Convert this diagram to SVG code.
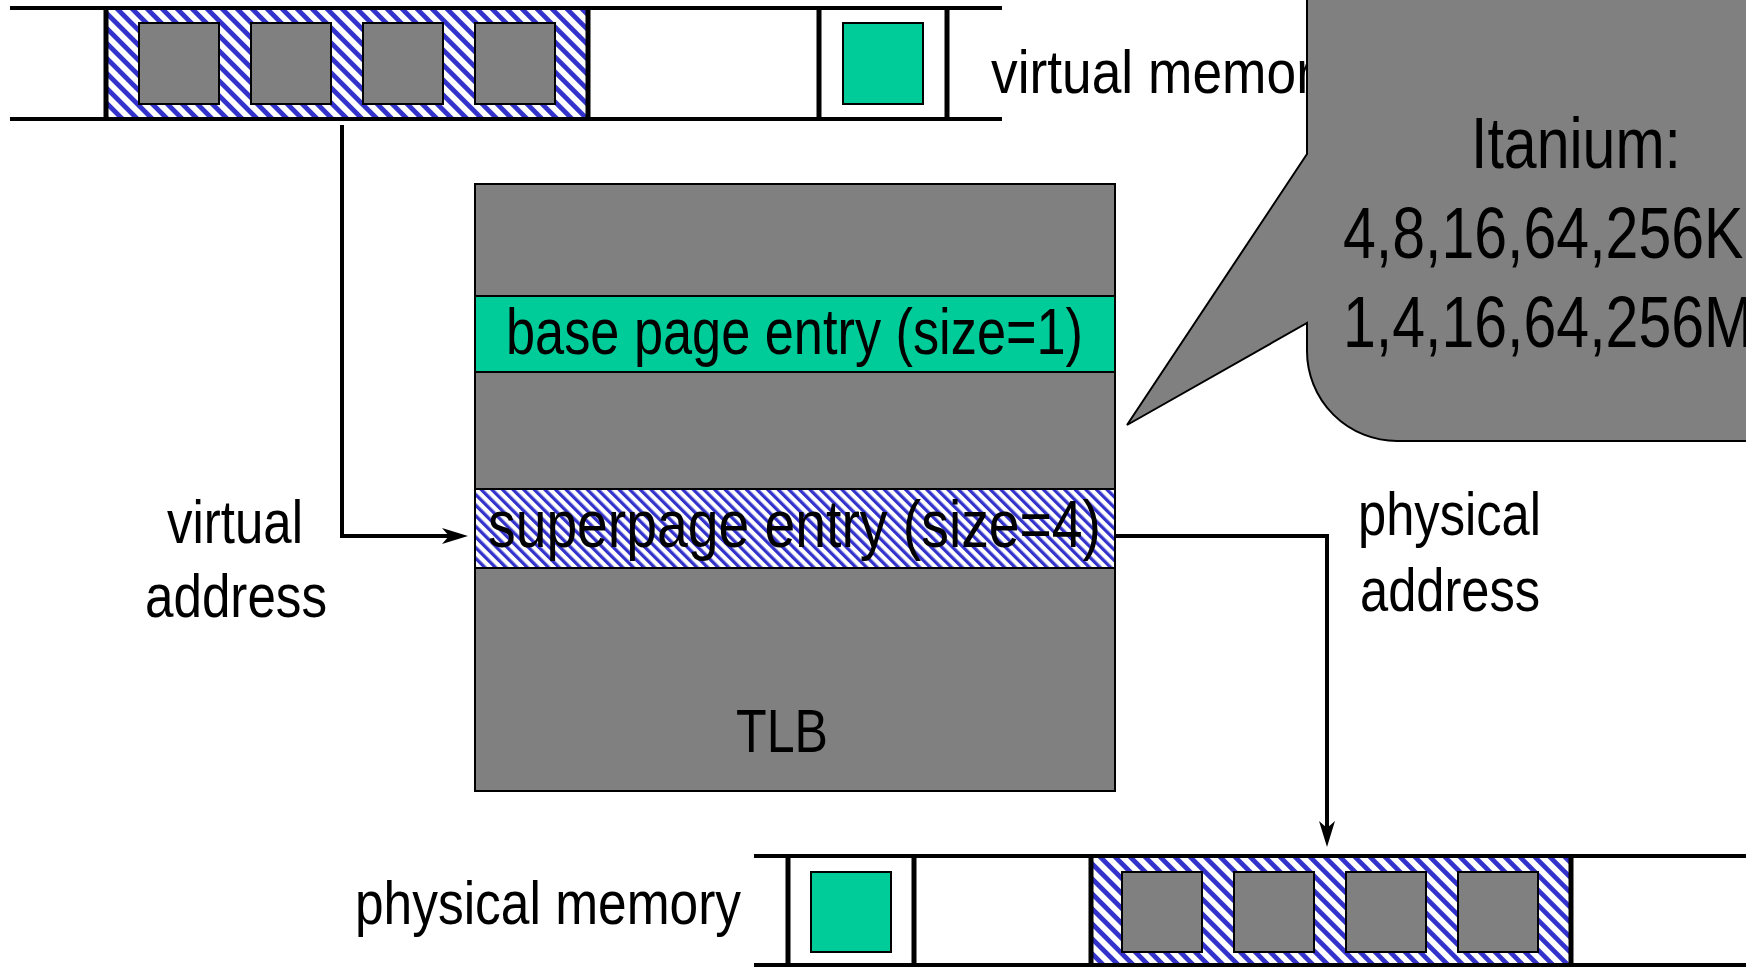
<svg xmlns="http://www.w3.org/2000/svg" width="1746" height="968" viewBox="0 0 1746 968">
<defs>
<style>
.t{font-family:"Liberation Sans Narrow","Liberation Sans",Arial,sans-serif;font-size:62px;fill:#000}
.big{font-size:72px}
.rail{stroke:#000;stroke-width:4;fill:none}
.div{stroke:#000;stroke-width:5;fill:none}
.pg{fill:#808080;stroke:#000;stroke-width:2}
.gr{fill:#00CC99;stroke:#000;stroke-width:2}
.hat{fill:url(#hatch)}
.conn{stroke:#000;stroke-width:4;fill:none}
</style>
<pattern id="hatch" width="10.6" height="10.6" patternUnits="userSpaceOnUse" patternTransform="rotate(-45)">
<rect width="10.6" height="10.6" fill="#fff"/>
<rect width="4.8" height="10.6" fill="#3333CC"/>
</pattern>
<pattern id="hatch2" width="7.5" height="7.5" patternUnits="userSpaceOnUse" patternTransform="rotate(-45)">
<rect width="7.5" height="7.5" fill="#fff"/>
<rect width="3.3" height="7.5" fill="#3333CC"/>
</pattern>
<marker id="arr" viewBox="0 0 26 16" refX="7" refY="8" markerWidth="26" markerHeight="16" markerUnits="userSpaceOnUse" orient="auto">
<path d="M0,0 L26,8 L0,16 L7,8 Z" fill="#000"/>
</marker>
</defs>
<rect width="1746" height="968" fill="#fff"/>

<g id="virtual-memory">
<rect class="hat" x="106" y="8" width="482" height="111"/>
<rect class="pg" x="139" y="23" width="80" height="81"/>
<rect class="pg" x="251" y="23" width="80" height="81"/>
<rect class="pg" x="363" y="23" width="80" height="81"/>
<rect class="pg" x="475" y="23" width="80" height="81"/>
<rect class="gr" x="843" y="23" width="80" height="81"/>
<path class="rail" d="M10,8 H1002 M10,119 H1002"/>
<path class="div" d="M106,8 V119 M588,8 V119 M819,8 V119 M947,8 V119"/>
<text class="t" transform="translate(991,93) scale(0.86,1)">virtual memory</text>
</g>

<g id="physical-memory">
<rect class="hat" x="1091" y="856" width="480" height="109"/>
<rect class="gr" x="811" y="872" width="80" height="80"/>
<rect class="pg" x="1122" y="872" width="80" height="80"/>
<rect class="pg" x="1234" y="872" width="80" height="80"/>
<rect class="pg" x="1346" y="872" width="80" height="80"/>
<rect class="pg" x="1458" y="872" width="80" height="80"/>
<path class="rail" d="M754,856 H1746 M754,965 H1746"/>
<path class="div" d="M788,856 V965 M914,856 V965 M1091,856 V965 M1571,856 V965"/>
<text class="t" x="355" y="924" textLength="386" lengthAdjust="spacingAndGlyphs">physical memory</text>
</g>

<g id="tlb">
<rect class="pg" x="475" y="184" width="640" height="607"/>
<rect class="gr" x="475" y="296" width="640" height="76"/>
<rect x="475" y="489" width="640" height="79" fill="url(#hatch2)" stroke="#000" stroke-width="2"/>
<text class="t" x="506" y="354" style="font-size:64px" textLength="577" lengthAdjust="spacingAndGlyphs">base page entry (size=1)</text>
<text class="t" x="488" y="547" style="font-size:66px" textLength="613" lengthAdjust="spacingAndGlyphs">superpage entry (size=4)</text>
<text class="t" x="736" y="752" textLength="92" lengthAdjust="spacingAndGlyphs">TLB</text>
</g>

<g id="labels">
<text class="t" x="167" y="543" textLength="136" lengthAdjust="spacingAndGlyphs">virtual</text>
<text class="t" x="145" y="617" textLength="182" lengthAdjust="spacingAndGlyphs">address</text>
<text class="t" x="1358" y="535" textLength="183" lengthAdjust="spacingAndGlyphs">physical</text>
<text class="t" x="1360" y="611" textLength="180" lengthAdjust="spacingAndGlyphs">address</text>
</g>

<g id="connectors">
<path class="conn" d="M342,125 V536 H449" marker-end="url(#arr)"/>
<path class="conn" d="M1115,536 H1327 V828" marker-end="url(#arr)"/>
</g>

<g id="callout">
<path d="M1307,-5 V154 L1127,425 L1307,323 V351 A90,90 0 0 0 1397,441 H1752 V-5 Z" fill="#808080" stroke="#000" stroke-width="2"/>
<text class="t big" x="1471" y="168" textLength="210" lengthAdjust="spacingAndGlyphs">Itanium:</text>
<text class="t big" transform="translate(1343,258) scale(0.82,1)">4,8,16,64,256K</text>
<text class="t big" transform="translate(1343,347) scale(0.82,1)">1,4,16,64,256M</text>
</g>
</svg>
